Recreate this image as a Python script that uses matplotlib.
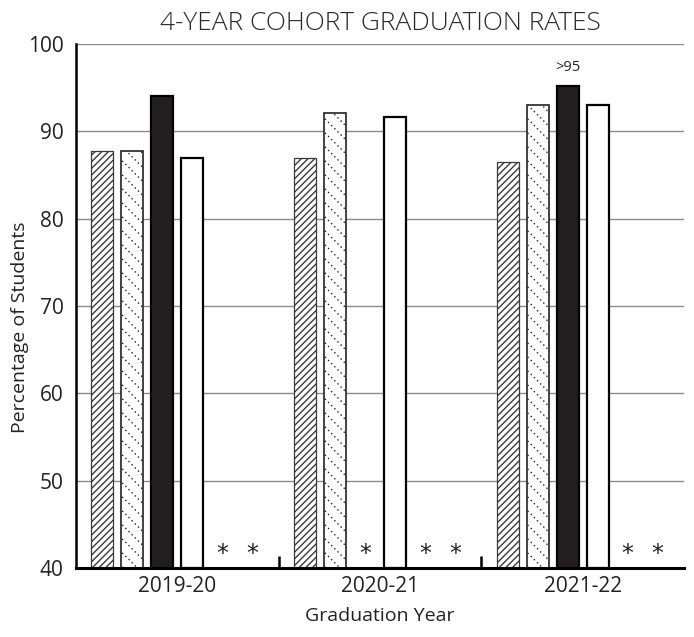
import numpy as np
import matplotlib.pyplot as plt
from matplotlib.transforms import IdentityTransform

plt.rcParams['font.family'] = ['Open Sans', 'DejaVu Sans']

years = ['2019-20', '2020-21', '2021-22']
# six slots per year; None = suppressed value shown as '*'
s_hatch = [87.7, 87.0, 86.5]
s_dots = [87.8, 92.1, 93.0]
s_black = [94.0, None, 95.2]
s_white = [87.0, 91.6, 93.0]
s_e = [None, None, None]
s_f = [None, None, None]
series = [s_hatch, s_dots, s_black, s_white, s_e, s_f]
bar_notes = {(2, 2): '>95'}

fig = plt.figure(figsize=(6.94, 6.37), dpi=100)
ax = fig.add_axes([0.1095, 0.1083, 0.8761, 0.8226])

x = np.arange(len(years))
slot = 0.148
width = 0.108
offsets = (np.arange(6) - 2.5) * slot

styles = [
    dict(facecolor='white', edgecolor='#3a3a3a', hatch='/////', linewidth=0.9),
    dict(facecolor='white', edgecolor='#222222', linewidth=1.2),
    dict(facecolor='#231f20', edgecolor='black', linewidth=1.6),
    dict(facecolor='white', edgecolor='black', linewidth=1.6),
    dict(facecolor='white', edgecolor='black', linewidth=1.6),
    dict(facecolor='white', edgecolor='black', linewidth=1.6),
]

dotted_bars = []
for i, vals in enumerate(series):
    for j, v in enumerate(vals):
        xp = x[j] + offsets[i]
        if v is None:
            ax.text(xp, 41.6, '*', ha='center', va='center', fontsize=17,
                    color='#222222', family='DejaVu Sans')
            continue
        b = ax.bar(xp, v - 40, width, bottom=40, zorder=3, **styles[i])
        if i == 1:
            dotted_bars.append(b[0])
        if (i, j) in bar_notes:
            ax.text(xp, v + 1.3, bar_notes[(i, j)], ha='center', va='bottom',
                    fontsize=10.5, color='#222222')

ax.set_xlim(-0.5, 2.5)
ax.set_ylim(40, 100)
ax.set_yticks(range(40, 101, 10))
ax.set_xticks(x)
ax.set_xticklabels(years)
ax.set_xticks([0.5, 1.5], minor=True)
ax.tick_params(axis='x', which='major', length=0, labelsize=15, pad=6, colors='#222222')
ax.tick_params(axis='x', which='minor', direction='in', length=9, width=1.8, color='black')
ax.tick_params(axis='y', length=0, labelsize=15, pad=9, colors='#222222')

for yv in range(50, 101, 10):
    ax.axhline(yv, color='#8a8a8a', linewidth=1.0, zorder=1)

for s in ['top', 'right']:
    ax.spines[s].set_visible(False)
ax.spines['left'].set_linewidth(1.8)
ax.spines['bottom'].set_linewidth(2.2)
ax.spines['bottom'].set_zorder(4)

ax.set_title('4-YEAR COHORT GRADUATION RATES', fontsize=19, color='#2a2a2a',
             pad=10, fontweight='light')
ax.set_ylabel('Percentage of Students', fontsize=14, color='#222222')
ax.yaxis.set_label_coords(-0.078, 0.46)
ax.set_xlabel('Graduation Year', fontsize=14, color='#222222', labelpad=7)

# dotted diagonal fill for the second series
fig.canvas.draw()
for rect in dotted_bars:
    bb = rect.get_window_extent()
    step = 14
    c = bb.x0 + bb.y0 - 40
    while c < bb.x1 + bb.y1 + 40:
        xs = np.array([bb.x0 - 40, bb.x1 + 40])
        ys = c - xs
        ln, = ax.plot(xs, ys, transform=IdentityTransform(), color='#222222',
                      linewidth=1.0, linestyle=(0, (1, 2.2)), zorder=3.5)
        ln.set_clip_path(rect)
        c += step

fig.savefig('out.png', dpi=100)
